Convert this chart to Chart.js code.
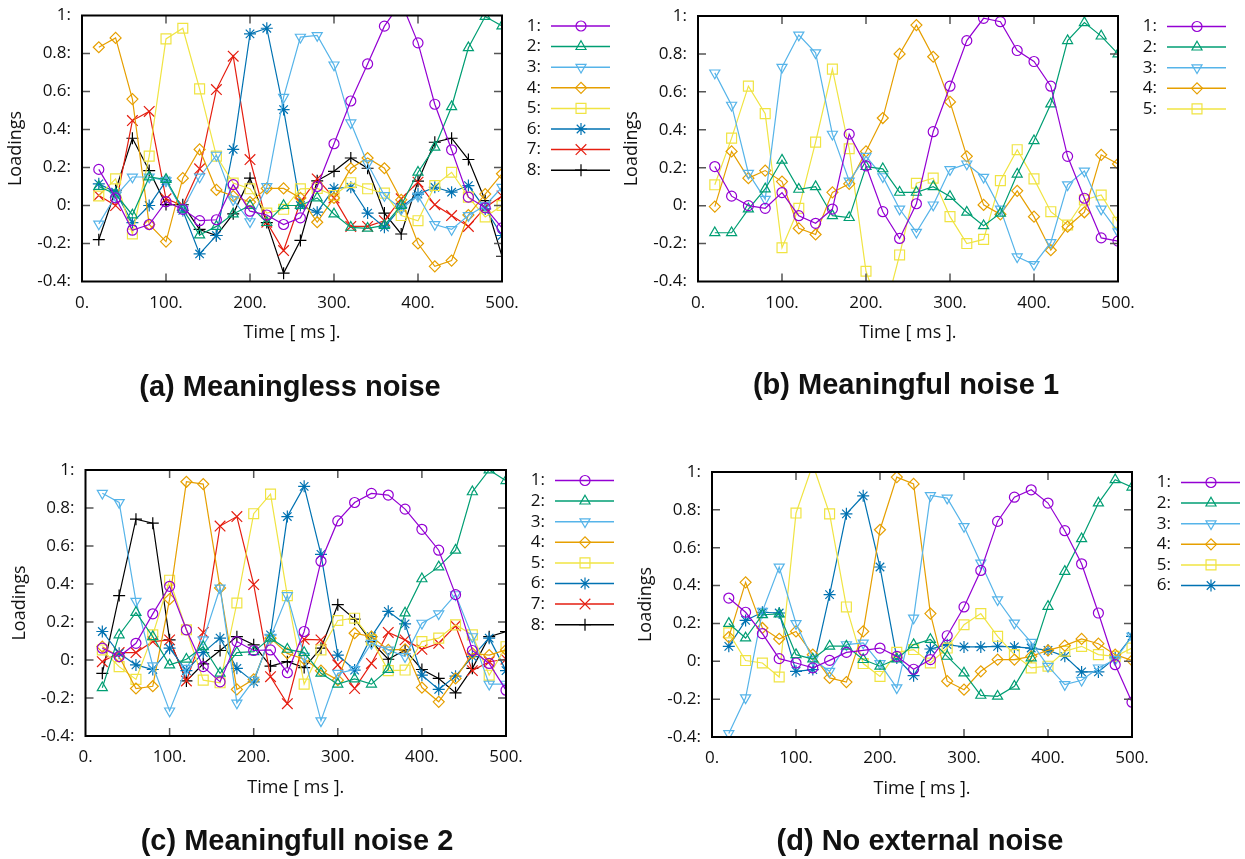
<!DOCTYPE html>
<html><head><meta charset="utf-8">
<script src="https://cdn.jsdelivr.net/npm/chart.js@4/dist/chart.umd.min.js"></script>
<style>
html,body{margin:0;padding:0;background:#fff;}
#wrap{position:relative;width:1245px;height:859px;overflow:hidden;background:#fff;}
canvas{position:absolute;left:0;top:0;}
</style></head><body><div id="wrap">
<canvas id="pa" width="1245" height="859"></canvas>
<canvas id="pb" width="1245" height="859"></canvas>
<canvas id="pc" width="1245" height="859"></canvas>
<canvas id="pd" width="1245" height="859"></canvas>
</div>
<script>
// ---------- data ----------
const xValues = [20,40,60,80,100,120,140,160,180,200,220,240,260,280,300,320,340,360,380,400,420,440,460,480,500];
const xTickValues = [0,100,200,300,400,500];
const xTickLabels = ['0.','100.','200.','300.','400.','500.'];
const yTickValues = [-0.4,-0.2,0,0.2,0.4,0.6,0.8,1];
const yTickLabels = ['-0.4:','-0.2:','0:','0.2:','0.4:','0.6:','0.8:','1:'];
const seriesNames = ['1:','2:','3:','4:','5:','6:','7:','8:'];
const xAxisTitle = 'Time [ ms ].';
const yAxisTitle = 'Loadings';
const panelTitles = ['(a) Meaningless noise','(b) Meaningful noise 1','(c) Meaningfull noise 2','(d) No external noise'];

// (a) Meaningless noise
const a1 = [0.19,0.04,-0.13,-0.10,0.02,-0.02,-0.08,-0.075,0.11,-0.03,-0.05,-0.10,-0.065,0.10,0.325,0.55,0.745,0.944,1.07,0.856,0.533,0.293,0.044,-0.012,-0.118];
const a2 = [0.10,0.06,-0.05,0.15,0.137,-0.02,-0.155,-0.11,-0.045,0.0,-0.09,0.0,0.0,0.04,-0.045,-0.115,-0.12,-0.105,0.0,0.175,0.307,0.52,0.83,0.995,0.945];
const a3 = [-0.097,0.05,0.15,0.15,0.13,-0.02,0.15,0.265,0.03,-0.085,0.10,0.57,0.886,0.895,0.74,0.435,0.22,0.053,-0.018,0.05,-0.10,-0.126,-0.053,0.0,0.096];
const a4 = [0.833,0.882,0.56,-0.10,-0.19,0.144,0.295,0.082,0.05,0.018,0.09,0.09,0.04,-0.088,0.04,0.196,0.25,0.196,0.03,-0.20,-0.32,-0.29,-0.05,0.06,0.167];
const a5 = [0.05,0.14,-0.15,0.26,0.877,0.933,0.614,0.26,0.118,0.088,-0.04,-0.02,0.088,0.09,0.053,0.12,0.088,0.065,-0.053,-0.08,0.105,0.175,0.044,-0.06,0.0];
const a6 = [0.114,0.07,-0.09,0.0,0.13,-0.026,-0.255,-0.158,0.295,0.903,0.933,0.505,0.0,-0.035,0.09,0.096,-0.04,-0.114,-0.01,0.06,0.096,0.07,0.105,-0.018,-0.158];
const a7 = [0.053,0.0,0.447,0.495,0.035,0.0,0.193,0.61,0.786,0.242,-0.088,-0.237,0.018,0.14,0.04,-0.11,-0.11,-0.08,0.035,0.123,0.004,-0.053,-0.11,-0.01,0.05];
const a8 = [-0.18,0.08,0.354,0.184,0.005,0.004,-0.126,-0.158,-0.044,0.144,-0.09,-0.356,-0.184,0.13,0.18,0.25,0.196,-0.04,-0.15,0.128,0.333,0.354,0.242,0.026,-0.267];

// (b) Meaningful noise 1
const b1 = [0.206,0.05,0.0,-0.014,0.069,-0.053,-0.093,-0.018,0.377,0.21,-0.032,-0.173,0.01,0.39,0.63,0.87,0.988,0.97,0.818,0.76,0.63,0.26,0.039,-0.17,-0.187];
const b2 = [-0.143,-0.143,-0.018,0.088,0.24,0.086,0.10,-0.053,-0.063,0.206,0.194,0.07,0.07,0.10,0.048,-0.035,-0.106,-0.04,0.166,0.342,0.536,0.87,0.965,0.894,0.80];
const b3 = [0.70,0.53,0.171,0.034,0.73,0.90,0.806,0.377,0.13,0.26,0.153,-0.018,-0.14,0.004,0.19,0.22,0.15,-0.018,-0.27,-0.31,-0.194,0.11,0.183,-0.018,-0.138];
const b4 = [-0.005,0.286,0.145,0.185,0.127,-0.12,-0.152,0.07,0.115,0.286,0.462,0.80,0.952,0.785,0.547,0.26,0.004,-0.046,0.078,-0.058,-0.235,-0.111,-0.035,0.268,0.22];
const b5 = [0.11,0.356,0.63,0.485,-0.222,-0.014,0.335,0.72,0.30,-0.346,-0.60,-0.26,0.118,0.145,-0.058,-0.20,-0.178,0.132,0.295,0.141,-0.032,-0.102,0.03,0.056,-0.088];

// (c) Meaningfull noise 2
const c1 = [0.062,0.018,0.088,0.243,0.388,0.159,-0.035,-0.115,0.097,0.05,0.053,-0.067,0.15,0.52,0.732,0.829,0.877,0.868,0.794,0.688,0.578,0.344,0.05,-0.018,-0.159];
const c2 = [-0.146,0.132,0.25,0.123,-0.026,0.004,0.07,-0.07,0.039,0.044,0.115,0.056,0.039,-0.07,-0.127,-0.10,-0.127,-0.05,0.247,0.427,0.49,0.578,0.885,1.0,0.944];
const c3 = [0.878,0.829,0.309,-0.03,-0.268,-0.044,0.106,0.379,-0.226,-0.106,0.12,0.339,0.02,-0.32,-0.07,-0.05,0.088,0.053,0.018,0.194,0.243,0.344,0.123,-0.127,-0.127];
const c4 = [0.07,0.018,-0.15,-0.138,0.32,0.938,0.926,0.379,-0.155,-0.102,0.115,0.035,0.004,-0.056,-0.106,0.141,0.123,0.053,0.056,-0.145,-0.22,-0.097,0.035,0.026,0.053];
const c5 = [0.053,-0.035,-0.102,0.132,0.42,0.159,-0.106,-0.12,0.30,0.77,0.873,0.339,-0.127,0.053,0.208,0.22,0.106,-0.056,-0.053,0.097,0.115,0.185,0.132,-0.08,0.07];
const c6 = [0.15,0.035,-0.026,-0.05,0.062,-0.056,0.039,0.115,-0.044,-0.115,0.132,0.755,0.914,0.556,0.026,-0.053,0.123,0.256,0.19,-0.08,-0.155,-0.085,0.018,0.115,-0.056];
const c7 = [-0.009,0.039,0.039,0.097,0.106,-0.11,0.145,0.705,0.755,0.397,-0.088,-0.23,0.109,0.106,-0.026,-0.15,-0.018,0.145,0.106,0.056,0.088,0.18,-0.056,-0.009,0.004];
const c8 = [-0.07,0.339,0.741,0.72,0.106,-0.11,-0.02,0.05,0.123,0.08,-0.032,-0.009,-0.04,0.062,0.291,0.215,0.097,0.004,0.053,-0.05,-0.097,-0.173,-0.044,0.123,0.15];

// (d) No external noise
const d1 = [0.334,0.259,0.146,0.014,-0.009,-0.035,0.005,0.047,0.058,0.07,0.026,-0.042,0.009,0.135,0.287,0.48,0.739,0.867,0.906,0.836,0.69,0.515,0.255,-0.018,-0.216];
const d2 = [0.20,0.123,0.246,0.25,0.035,0.012,0.08,0.08,0.009,-0.026,0.012,0.088,0.115,0.026,-0.062,-0.18,-0.185,-0.132,0.018,0.29,0.475,0.647,0.836,0.959,0.92];
const d3 = [-0.382,-0.193,0.264,0.498,0.20,0.009,-0.053,0.088,0.097,-0.012,-0.14,0.229,0.876,0.862,0.712,0.519,0.325,0.202,0.10,-0.026,-0.123,-0.10,-0.035,0.009,0.132];
const d4 = [0.128,0.417,0.176,0.118,0.158,0.035,-0.088,-0.11,0.158,0.695,0.973,0.937,0.252,-0.105,-0.15,-0.053,0.009,0.009,0.026,0.058,0.083,0.118,0.093,0.035,0.005];
const d5 = [0.15,0.004,-0.009,-0.083,0.783,1.04,0.779,0.287,-0.012,-0.08,0.047,0.062,-0.009,0.07,0.193,0.252,0.132,0.035,-0.035,-0.026,0.053,0.079,0.035,0.026,0.07];
const d6 = [0.079,0.216,0.259,0.255,-0.053,-0.044,0.352,0.779,0.874,0.498,0.018,-0.076,0.065,0.088,0.076,0.076,0.079,0.076,0.07,0.058,0.026,-0.056,-0.056,0.018,0.132];

// ---------- styles ----------
const COLORS = ['#9400D3','#009E73','#56B4E9','#E69F00','#F0E442','#0072B2','#E51E10','#000000'];
const PSTYLE = ['circle','triangle','triangle','rectRot','rect','star','crossRot','cross'];
const PROT   = [0,0,180,0,0,0,0,0];
const PRAD   = [5,5.8,5.8,5.5,7,6,7.5,6];
const FONT = '"Open Sans", "Noto Sans", sans-serif';
const CW = 1245, CH = 859, YW = 60, XH = 40;

function drawMarker(ctx, i, x, y) {
  ctx.save();
  ctx.strokeStyle = COLORS[i];
  ctx.fillStyle = 'rgba(0,0,0,0)';
  ctx.lineWidth = 1.2;
  if (Chart.helpers && Chart.helpers.drawPoint) {
    Chart.helpers.drawPoint(ctx, {pointStyle: PSTYLE[i], rotation: PROT[i], radius: PRAD[i], borderWidth: 1.2}, x, y);
  }
  ctx.restore();
}

function makePanel(id, series, geom) {
  const datasets = series.map((vals, i) => ({
    label: seriesNames[i],
    data: vals.map((v, j) => ({x: xValues[j], y: v})),
    borderColor: COLORS[i],
    backgroundColor: 'rgba(0,0,0,0)',
    borderWidth: 1.2,
    pointStyle: PSTYLE[i],
    pointRotation: PROT[i],
    pointRadius: PRAD[i],
    pointBorderWidth: 1.2,
    pointBorderColor: COLORS[i],
    pointBackgroundColor: 'rgba(0,0,0,0)',
    tension: 0,
    fill: false
  }));
  const decor = {
    id: 'decor',
    afterDraw(chart) {
      const ctx = chart.ctx, a = chart.chartArea, xs = chart.scales.x, ys = chart.scales.y;
      ctx.save();
      // inward mirrored ticks
      ctx.strokeStyle = '#555';
      ctx.lineWidth = 1.5;
      ctx.beginPath();
      xTickValues.slice(1, -1).forEach(v => {
        const px = xs.getPixelForValue(v);
        ctx.moveTo(px, a.bottom); ctx.lineTo(px, a.bottom - 8);
        ctx.moveTo(px, a.top); ctx.lineTo(px, a.top + 8);
      });
      yTickValues.slice(1, -1).forEach(v => {
        const py = ys.getPixelForValue(v);
        ctx.moveTo(a.left, py); ctx.lineTo(a.left + 8, py);
        ctx.moveTo(a.right, py); ctx.lineTo(a.right - 8, py);
      });
      ctx.stroke();
      // frame
      ctx.strokeStyle = '#000';
      ctx.lineWidth = 2;
      ctx.strokeRect(a.left, a.top, a.right - a.left, a.bottom - a.top);
      // axis titles
      ctx.fillStyle = '#111';
      ctx.font = '18px ' + FONT;
      ctx.textAlign = 'center';
      ctx.textBaseline = 'middle';
      ctx.fillText(xAxisTitle, (a.left + a.right) / 2, a.bottom + 51.5);
      ctx.save();
      ctx.translate(a.left - 66, (a.top + a.bottom) / 2);
      ctx.rotate(-Math.PI / 2);
      ctx.fillText(yAxisTitle, 0, 0);
      ctx.restore();
      // legend
      ctx.font = '17px ' + FONT;
      chart.data.datasets.forEach((ds, i) => {
        const yy = a.top + 10.5 + 20.6 * i;
        ctx.fillStyle = '#111';
        ctx.textAlign = 'right';
        ctx.fillText(ds.label, a.right + 39, yy);
        ctx.strokeStyle = COLORS[i];
        ctx.lineWidth = 1.5;
        ctx.beginPath();
        ctx.moveTo(a.right + 49, yy); ctx.lineTo(a.right + 108, yy);
        ctx.stroke();
        drawMarker(ctx, i, a.right + 79, yy);
      });
      // panel title
      ctx.fillStyle = '#111';
      ctx.textAlign = 'center';
      ctx.font = 'bold 29px "Liberation Sans", Arial, sans-serif';
      ctx.fillText(geom.title, geom.tx, geom.ty);
      ctx.restore();
    }
  };
  new Chart(document.getElementById(id), {
    type: 'line',
    data: {datasets},
    options: {
      responsive: false,
      animation: false,
      devicePixelRatio: 1,
      events: [],
      layout: {padding: {left: geom.L - YW, right: CW - geom.R, top: geom.T, bottom: CH - geom.B - XH}},
      plugins: {legend: {display: false}, tooltip: {enabled: false}, title: {display: false}},
      scales: {
        x: {
          type: 'linear', min: 0, max: 500,
          grid: {display: false, drawTicks: false},
          border: {display: false},
          afterBuildTicks: s => { s.ticks = xTickValues.map(v => ({value: v})); },
          afterFit: s => { s.height = XH; s.paddingLeft = 0; s.paddingRight = 0; },
          ticks: {
            callback: (v, i) => xTickLabels[i],
            font: {family: FONT, size: 17}, color: '#111',
            padding: 11, maxRotation: 0, minRotation: 0, autoSkip: false
          }
        },
        y: {
          type: 'linear', min: -0.4, max: 1,
          grid: {display: false, drawTicks: false},
          border: {display: false},
          afterBuildTicks: s => { s.ticks = yTickValues.map(v => ({value: v})); },
          afterFit: s => { s.width = YW; s.paddingTop = 0; s.paddingBottom = 0; },
          ticks: {
            callback: (v, i) => yTickLabels[i],
            font: {family: FONT, size: 17}, color: '#111',
            padding: 11, autoSkip: false
          }
        }
      }
    },
    plugins: [decor]
  });
}

makePanel('pa', [a1,a2,a3,a4,a5,a6,a7,a8], {L: 82, R: 502, T: 15.5, B: 281.5, title: panelTitles[0], tx: 290, ty: 388});
makePanel('pb', [b1,b2,b3,b4,b5], {L: 698, R: 1118, T: 16, B: 281.5, title: panelTitles[1], tx: 906, ty: 386});
makePanel('pc', [c1,c2,c3,c4,c5,c6,c7,c8], {L: 85.5, R: 506, T: 470, B: 736, title: panelTitles[2], tx: 297, ty: 842});
makePanel('pd', [d1,d2,d3,d4,d5,d6], {L: 712, R: 1132, T: 472, B: 737, title: panelTitles[3], tx: 920, ty: 842});
</script>
</body></html>
